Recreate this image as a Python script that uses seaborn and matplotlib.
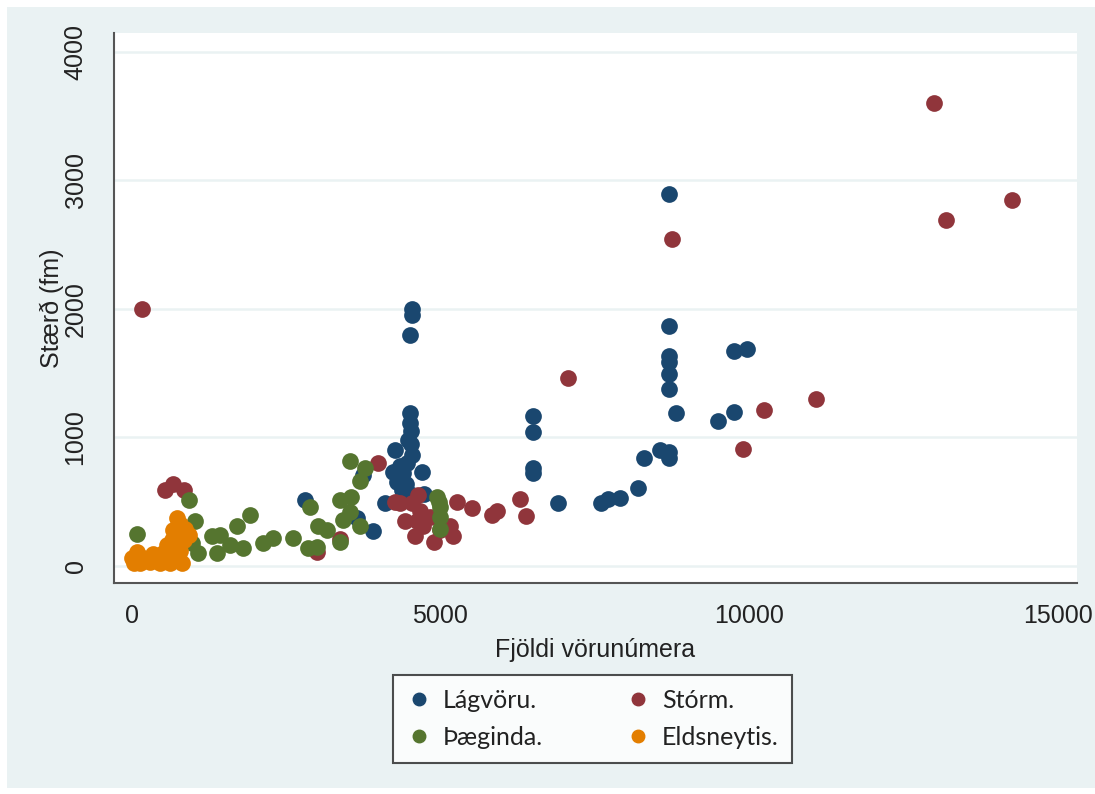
import matplotlib
matplotlib.use("Agg")
import matplotlib.pyplot as plt
from matplotlib.patches import Rectangle
from matplotlib.lines import Line2D
import seaborn as sns
import pandas as pd

# ---- data ----
groups = ["Lágvöru.", "Stórm.", "Þæginda.", "Eldsneytis."]
colors = ["#1A476F", "#90353B", "#55752F", "#E37E00"]

lagvoru_x = [2810, 3750, 3910, 4100, 4270, 4240, 4300, 4350, 4380, 4400, 4450, 4460, 4480, 4500,
             4510, 4520, 4530, 4540, 4500, 4700, 4730, 4540, 4540, 4500, 6500, 6500, 6500, 6500,
             6900, 7600, 7720, 7910, 8200, 8300, 8560, 8700, 8700, 8700, 8700, 8700, 8700, 8700,
             8700, 8810, 9500, 9750, 9750, 9960, 3650]
lagvoru_y = [510, 710, 270, 490, 900, 730, 650, 780, 590, 720, 640, 800, 980, 1190,
             1110, 1050, 950, 860, 560, 730, 560, 2000, 1950, 1800, 1170, 1040, 760, 720,
             490, 490, 520, 530, 610, 840, 900, 890, 840, 2890, 1870, 1630, 1590, 1490,
             1380, 1190, 1130, 1200, 1670, 1690, 370]

storm_x = [170, 540, 670, 840, 3000, 3370, 3990, 4270, 4350, 4540, 4640, 4670, 4430, 4620,
           4720, 4590, 4890, 4990, 4830, 5160, 5210, 5270, 5510, 5830, 5910, 6290, 6380,
           7060, 8750, 9910, 10240, 11080, 13000, 13190, 14260]
storm_y = [2000, 590, 640, 590, 110, 210, 800, 500, 490, 490, 550, 430, 350, 350,
           310, 230, 190, 280, 380, 310, 230, 500, 450, 400, 430, 520, 390,
           1460, 2540, 910, 1210, 1300, 3600, 2690, 2850]

thaeginda_x = [80, 920, 1030, 970, 1080, 1300, 1430, 1380, 1700, 1920, 1810, 1590, 2130, 2290,
               2620, 2860, 3000, 3020, 3160, 2890, 3370, 3420, 3380, 3540, 3780, 3700, 3560,
               3540, 3700, 4940, 4990, 4990, 4990, 4970]
thaeginda_y = [250, 510, 350, 180, 100, 230, 240, 100, 310, 400, 140, 160, 180, 220,
               220, 140, 150, 310, 280, 460, 510, 360, 190, 820, 760, 660, 540,
               420, 310, 540, 460, 380, 290, 500]

eldsn_x = [80, 0, 130, 300, 400, 460, 570, 510, 620, 650, 670, 730, 780, 860, 840, 780, 700,
           30, 190, 350, 570, 730, 920, 810, 620]
eldsn_y = [110, 60, 20, 30, 60, 20, 50, 100, 120, 200, 280, 370, 330, 290, 200, 120, 50,
           20, 60, 90, 160, 240, 240, 20, 20]

x_ticks = [0, 5000, 10000, 15000]
y_ticks = [0, 1000, 2000, 3000, 4000]
x_label = "Fjöldi vörunúmera"
y_label = "Stærð (fm)"

df = pd.concat([
    pd.DataFrame({"x": lagvoru_x, "y": lagvoru_y, "g": groups[0]}),
    pd.DataFrame({"x": storm_x, "y": storm_y, "g": groups[1]}),
    pd.DataFrame({"x": thaeginda_x, "y": thaeginda_y, "g": groups[2]}),
    pd.DataFrame({"x": eldsn_x, "y": eldsn_y, "g": groups[3]}),
], ignore_index=True)

# ---- style ----
sns.set_style("white")
plt.rcParams["font.family"] = ["Liberation Sans", "DejaVu Sans"]

BG = "#EAF2F3"
W, H = 1095, 794
fig = plt.figure(figsize=(W / 100, H / 100), dpi=100)
fig.patch.set_facecolor("white")
fig.patches.append(Rectangle((7 / W, 6 / H), 1 - 7 / W, 1 - 13 / H, transform=fig.transFigure,
                             facecolor=BG, edgecolor="none", zorder=-10))

ax = fig.add_axes([114 / W, 1 - 583 / H, (1077 - 114) / W, (583 - 33) / H])
ax.set_facecolor("white")

for g, c in zip(groups, colors):
    sub = df[df["g"] == g]
    sns.scatterplot(data=sub, x="x", y="y", color=c, s=145, linewidth=0, alpha=1,
                    ax=ax, legend=False, zorder=3)

ax.set_xlim(-287, 15313)
ax.set_ylim(-132, 4145)
ax.set_xticks(x_ticks)
ax.set_yticks(y_ticks)
ax.yaxis.grid(True, color=BG, linewidth=1.8, zorder=0)
ax.xaxis.grid(False)
ax.set_axisbelow(True)

for side in ["top", "right"]:
    ax.spines[side].set_visible(False)
for side in ["left", "bottom"]:
    ax.spines[side].set_color("#555555")
    ax.spines[side].set_linewidth(1.5)

ax.tick_params(axis="both", direction="out", length=8, width=1.5, color="#555555",
               labelsize=18, labelcolor="#222222")
ax.tick_params(axis="x", pad=7)
ax.tick_params(axis="y", pad=11)
plt.setp(ax.get_yticklabels(), rotation=90, va="center")

ax.set_xlabel(x_label, fontsize=18, color="#222222", labelpad=7)
ax.set_ylabel(y_label, fontsize=18, color="#222222", labelpad=0)

order = [0, 2, 1, 3]
handles = [Line2D([], [], marker="o", ls="", color=colors[i], markersize=9) for i in order]
labels = [groups[i] for i in order]
leg = fig.legend(handles, labels, ncol=2, loc="center", bbox_to_anchor=(592.5 / W, 1 - 719 / H),
                 frameon=True, fancybox=False, edgecolor="#222222", facecolor="white",
                 prop={"family": ["Lato", "DejaVu Sans"], "size": 18},
                 columnspacing=3.3, handletextpad=0.45, borderpad=0.55, labelspacing=0.55,
                 handlelength=1.0)
leg.get_frame().set_linewidth(1.5)
for t in leg.get_texts():
    t.set_color("#222222")

fig.savefig("out.png", dpi=100, facecolor=fig.get_facecolor())
